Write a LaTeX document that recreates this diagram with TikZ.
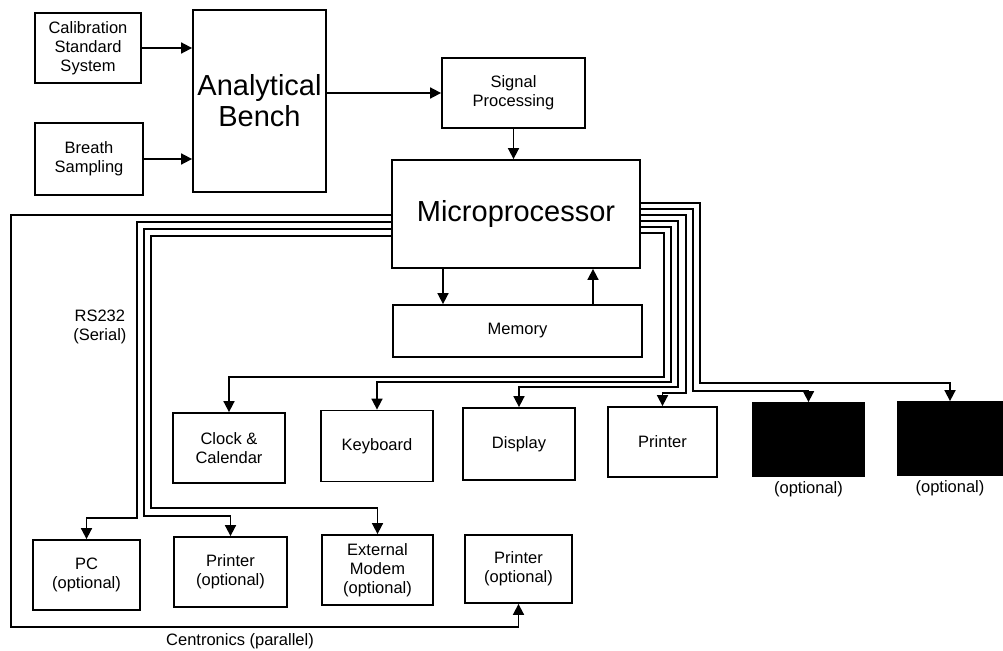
\documentclass[tikz,border=0pt]{standalone}
\usepackage{fontspec}
\setmainfont{Liberation Sans}
\usetikzlibrary{arrows.meta, positioning, calc}

\begin{document}
\begin{tikzpicture}[
    x=1pt, y=-1pt,
    block/.style={draw, line width=1.8pt, align=center, inner sep=2pt,
                  font=\fontsize{16.5}{19}\selectfont},
    bigblock/.style={block, font=\fontsize{29}{31}\selectfont},
    darkblock/.style={draw, line width=1.8pt, fill=black},
    tag/.style={align=center, font=\fontsize{16.5}{19}\selectfont},
    bus/.style={line width=1.7pt, -{Triangle[length=11pt,width=11pt]}}
]
    \useasboundingbox (0,0) rectangle (1003,650);

    % front end
    \node[block, minimum width=106pt, minimum height=70pt] (cal) at (88,48) {Calibration\\Standard\\System};
    \node[block, minimum width=108pt, minimum height=72pt] (breath) at (89,159) {Breath\\Sampling};
    \node[bigblock, minimum width=133pt, minimum height=182pt] (bench) at (259.5,101) {Analytical\\Bench};
    \node[block, minimum width=143pt, minimum height=70pt] (signal) at (513.5,93) {Signal\\Processing};
    \node[bigblock, minimum width=248pt, minimum height=108pt] (micro) at (516,214) {Microprocessor};
    \node[block, minimum width=249pt, minimum height=52pt] (memory) at (517.5,331) {Memory};

    % peripherals
    \node[block, minimum width=112pt, minimum height=70pt] (clock) at (229,448) {Clock \&\\Calendar};
    \node[block, minimum width=112pt, minimum height=71pt] (keyboard) at (377,446) {Keyboard};
    \node[block, minimum width=112pt, minimum height=72pt] (display) at (519,444) {Display};
    \node[block, minimum width=109pt, minimum height=70pt] (printer) at (662.5,442) {Printer};
    \node[darkblock, minimum width=111pt, minimum height=73pt] (optA) at (808.5,439.5) {};
    \node[darkblock, minimum width=104pt, minimum height=73pt] (optB) at (950,438.5) {};
    \node[tag, below=1pt of optA] (optAtag) {(optional)};
    \node[tag, below=1pt of optB] (optBtag) {(optional)};

    % external ports
    \node[block, minimum width=107pt, minimum height=70pt] (pc) at (86.5,575) {PC\\(optional)};
    \node[block, minimum width=113pt, minimum height=70pt] (prnser) at (230.5,572) {Printer\\(optional)};
    \node[block, minimum width=111pt, minimum height=70pt] (modem) at (377.5,570) {External\\Modem\\(optional)};
    \node[block, minimum width=107pt, minimum height=68pt] (prnpar) at (518.5,569) {Printer\\(optional)};

    \node[tag, anchor=east] (serial) at (130,327) {RS232\\(Serial)};
    \node[tag] (parallel) at (240,641) {Centronics (parallel)};

    % signal path
    \draw[bus] (cal) -- (cal -| bench.west);
    \draw[bus] (breath) -- (breath -| bench.west);
    \draw[bus] (signal.west -| bench.east) -- (signal);
    \draw[bus] (signal) -- (signal |- micro.north);
    \draw[bus] ([xshift=-73pt]micro.south) -- ([xshift=-73pt]micro.south |- memory.north);
    \draw[bus] ([xshift=77pt]micro.south |- memory.north) -- ([xshift=77pt]micro.south);

    % internal bus, right side
    \draw[bus] ([yshift=11pt]micro.east) -| (700,383) -| (optB.north);
    \draw[bus] ([yshift=5pt]micro.east) -| (693,391) -| (optA.north);
    \draw[bus] ([yshift=-1pt]micro.east) -| (686,393) -| (printer.north);
    \draw[bus] ([yshift=-7pt]micro.east) -| (678,387) -| (display.north);
    \draw[bus] ([yshift=-13pt]micro.east) -| (671,382) -| (keyboard.north);
    \draw[bus] ([yshift=-19pt]micro.east) -| (664,377) -| (clock.north);

    % serial and parallel ports, left side
    \draw[bus] ([yshift=-1pt]micro.west) -| (11,627) -| (prnpar.south);
    \draw[bus] ([yshift=-8pt]micro.west) -| (137,518) -| (pc.north);
    \draw[bus] ([yshift=-15pt]micro.west) -| (144,516) -| (prnser.north);
    \draw[bus] ([yshift=-22pt]micro.west) -| (151,508) -| (modem.north);
\end{tikzpicture}
\end{document}
